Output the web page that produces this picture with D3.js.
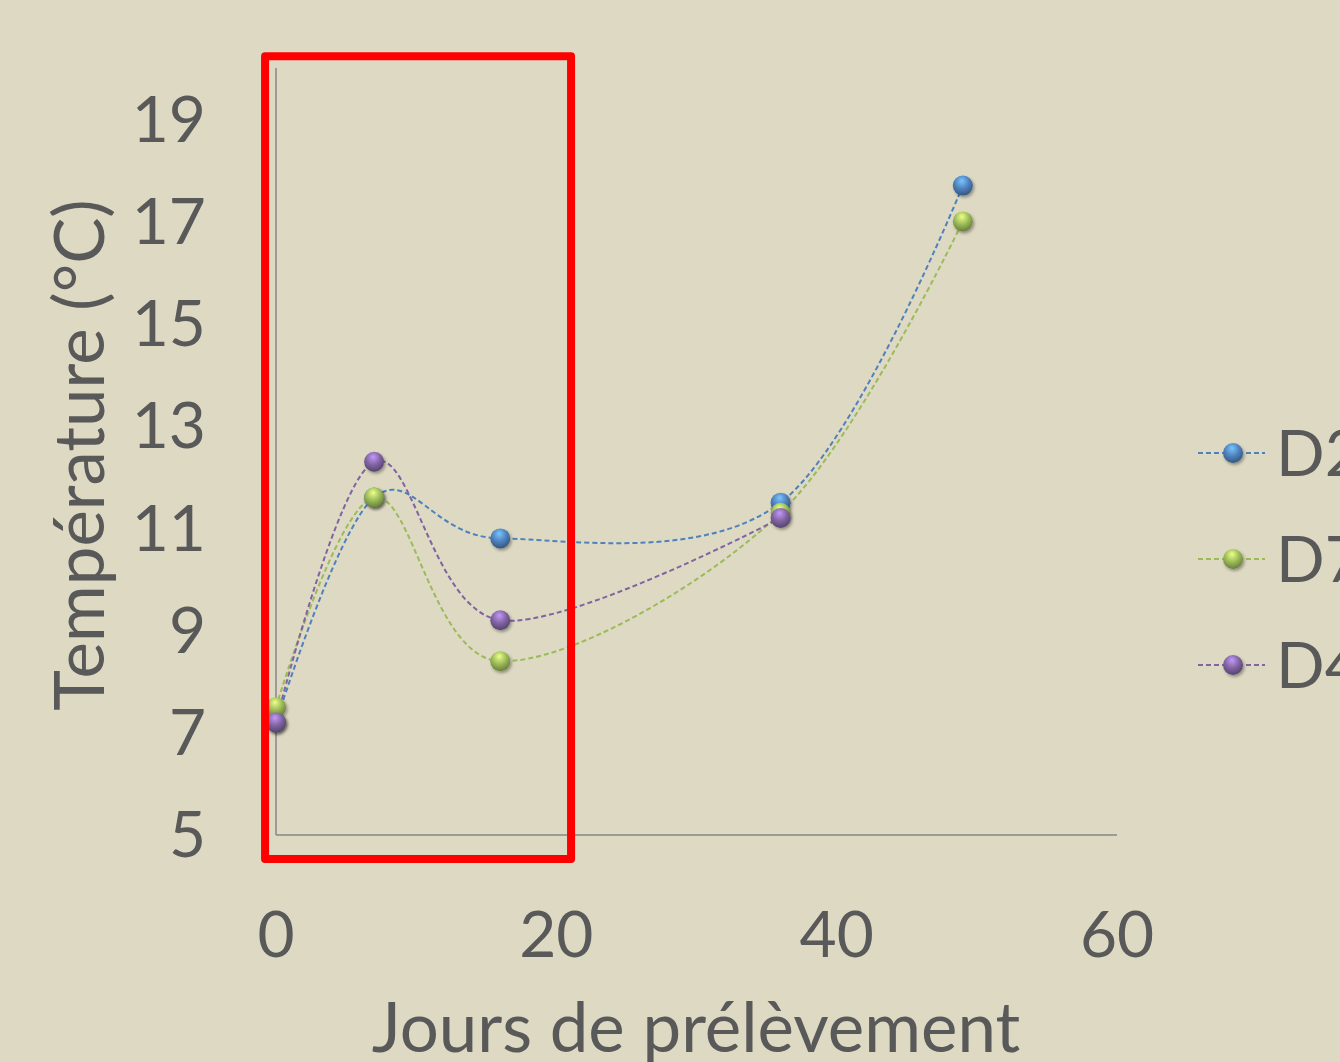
<!DOCTYPE html>
<html>
<head>
<meta charset="utf-8">
<script src="https://cdn.jsdelivr.net/npm/d3@7"></script>
<style>
  html, body { margin: 0; padding: 0; background: #ddd9c3; overflow: hidden; }
  text { font-family: Lato, "Open Sans", sans-serif; fill: #595959; }
</style>
</head>
<body>
<div id="chart"></div>
<script>
(function() {
  var width = 1340, height = 1062;

  // data
  var days = [0, 7, 16, 36, 49];
  var seriesNames = ["D2", "D7", "D4"];
  var d2 = [7.2, 11.6, 10.8, 11.5, 17.7];
  var d7 = [7.5, 11.6, 8.4, 11.3, 17.0];
  var d4 = [7.2, 12.3, 9.2, 11.2, null];
  var seriesColors = ["#4f81bd", "#9bbb59", "#8064a2"];
  var xTicks = [0, 20, 40, 60];
  var yTicks = [5, 7, 9, 11, 13, 15, 17, 19];

  var series = [d2, d7, d4].map(function(vals, i) {
    return {
      name: seriesNames[i],
      color: seriesColors[i],
      points: days.map(function(d, j) { return { x: d, y: vals[j] }; })
        .filter(function(p) { return p.y != null; })
    };
  });

  var svg = d3.select("#chart").append("svg")
    .attr("width", width)
    .attr("height", height);

  svg.append("rect").attr("width", width).attr("height", height).attr("fill", "#ddd9c3");

  var x = d3.scaleLinear().domain([0, 60]).range([276, 1117]);
  var y = d3.scaleLinear().domain([5, 20]).range([835, 68]);

  var defs = svg.append("defs");
  series.forEach(function(s, i) {
    var base = d3.color(s.color);
    var g = defs.append("radialGradient")
      .attr("id", "ball" + i)
      .attr("cx", "45%").attr("cy", "35%").attr("r", "65%")
      .attr("fx", "45%").attr("fy", "25%");
    g.append("stop").attr("offset", "0%").attr("stop-color", base.brighter(1.2));
    g.append("stop").attr("offset", "55%").attr("stop-color", base);
    g.append("stop").attr("offset", "100%").attr("stop-color", base.darker(1.1));
  });
  var shadow = defs.append("filter").attr("id", "shadow")
    .attr("x", "-50%").attr("y", "-50%").attr("width", "200%").attr("height", "200%");
  shadow.append("feDropShadow")
    .attr("dx", 1.5).attr("dy", 2).attr("stdDeviation", 1.5)
    .attr("flood-color", "#000").attr("flood-opacity", 0.35);

  // axes (plain lines, labels only)
  svg.append("line")
    .attr("x1", x(0)).attr("x2", x(0))
    .attr("y1", y(5)).attr("y2", y(20))
    .attr("stroke", "#868686").attr("stroke-width", 1.5);
  svg.append("line")
    .attr("x1", x(0)).attr("x2", x(60))
    .attr("y1", y(5)).attr("y2", y(5))
    .attr("stroke", "#868686").attr("stroke-width", 1.5);

  svg.selectAll(".ytick")
    .data(yTicks)
    .enter().append("text")
    .attr("class", "ytick")
    .attr("x", 206)
    .attr("y", function(d) { return y(d); })
    .attr("dy", "0.35em")
    .attr("text-anchor", "end")
    .attr("font-size", 64)
    .text(function(d) { return d; });

  svg.selectAll(".xtick")
    .data(xTicks)
    .enter().append("text")
    .attr("class", "xtick")
    .attr("x", function(d) { return x(d); })
    .attr("y", 957)
    .attr("text-anchor", "middle")
    .attr("font-size", 64)
    .text(function(d) { return d; });

  svg.append("text")
    .attr("transform", "translate(104,455) rotate(-90)")
    .attr("text-anchor", "middle")
    .attr("font-size", 69)
    .text("Température (°C)");

  svg.append("text")
    .attr("x", 696)
    .attr("y", 1052)
    .attr("text-anchor", "middle")
    .attr("font-size", 69)
    .text("Jours de prélèvement");

  var line = d3.line()
    .x(function(d) { return x(d.x); })
    .y(function(d) { return y(d.y); })
    .curve(d3.curveCardinal.tension(0));

  svg.selectAll(".series-line")
    .data(series)
    .enter().append("path")
    .attr("class", "series-line")
    .attr("d", function(d) { return line(d.points); })
    .attr("fill", "none")
    .attr("stroke", function(d) { return d.color; })
    .attr("stroke-width", 2)
    .attr("stroke-dasharray", "5,3");

  series.forEach(function(s, i) {
    svg.selectAll(".dot" + i)
      .data(s.points)
      .enter().append("circle")
      .attr("class", "dot" + i)
      .attr("cx", function(d) { return x(d.x); })
      .attr("cy", function(d) { return y(d.y); })
      .attr("r", 10)
      .attr("fill", "url(#ball" + i + ")")
      .attr("filter", "url(#shadow)");
  });

  // legend, partly off the right edge
  var legend = svg.selectAll(".legend")
    .data(series)
    .enter().append("g")
    .attr("class", "legend")
    .attr("transform", function(d, i) { return "translate(1198," + (453 + i * 106) + ")"; });
  legend.append("line")
    .attr("x1", 0).attr("x2", 67)
    .attr("stroke", function(d) { return d.color; })
    .attr("stroke-width", 2)
    .attr("stroke-dasharray", "5,3");
  legend.append("circle")
    .attr("cx", 35).attr("r", 10)
    .attr("fill", function(d, i) { return "url(#ball" + i + ")"; })
    .attr("filter", "url(#shadow)");
  legend.append("text")
    .attr("x", 78)
    .attr("dy", "0.36em")
    .attr("font-size", 64)
    .text(function(d) { return d.name; });

  // red highlight box
  svg.append("rect")
    .attr("x", x(-0.78)).attr("y", y(20.23))
    .attr("width", x(21.05) - x(-0.78))
    .attr("height", y(4.53) - y(20.23))
    .attr("fill", "none")
    .attr("stroke", "#ff0000")
    .attr("stroke-width", 8)
    .attr("stroke-linejoin", "round");
})();
</script>
</body>
</html>
